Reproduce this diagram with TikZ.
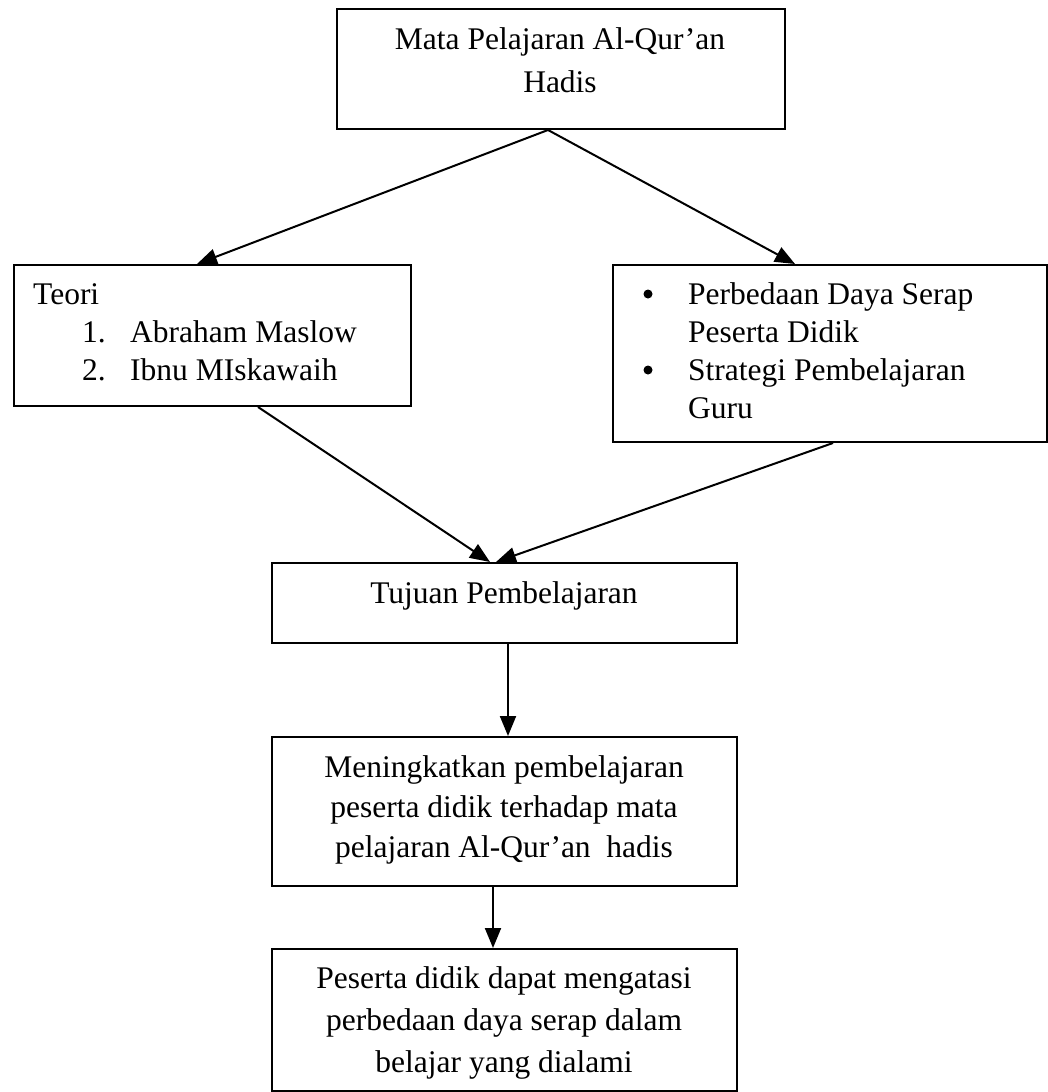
\documentclass[tikz,border=0pt]{standalone}
\usepackage{fontspec}
\setmainfont{Liberation Serif}
\usetikzlibrary{arrows.meta}
\begin{document}
\begin{tikzpicture}[x=1pt,y=-1pt,
  boxline/.style={draw=black,line width=2pt},
  txt/.style={anchor=base,inner sep=0pt,font=\fontsize{31.5}{38}\selectfont},
  txtl/.style={anchor=base west,inner sep=0pt,font=\fontsize{31.5}{38}\selectfont},
  conn/.style={line width=2pt,-{Triangle[length=20pt,width=16pt]}}]
\useasboundingbox (0,0) rectangle (1048,1092);
% boxes
\node[boxline,anchor=north west,minimum width=448pt,minimum height=120pt,inner sep=0pt] (b1) at (336,8) {};
\node[boxline,anchor=north west,minimum width=397pt,minimum height=141pt,inner sep=0pt] (b2) at (13,264) {};
\node[boxline,anchor=north west,minimum width=434pt,minimum height=177pt,inner sep=0pt] (b3) at (612,264) {};
\node[boxline,anchor=north west,minimum width=465pt,minimum height=80pt,inner sep=0pt] (b4) at (271,562) {};
\node[boxline,anchor=north west,minimum width=465pt,minimum height=149pt,inner sep=0pt] (b5) at (271,736) {};
\node[boxline,anchor=north west,minimum width=465pt,minimum height=142pt,inner sep=0pt] (b6) at (271,948) {};
% texts
\node[txt] (t1a) at (560,49) {Mata Pelajaran Al-Qur’an};
\node[txt] (t1b) at (560,92) {Hadis};
\node[txtl] (t2a) at (33,304) {Teori};
\node[txtl] (t2b) at (82,342) {1.};
\node[txtl] (t2c) at (130,342) {Abraham Maslow};
\node[txtl] (t2d) at (82,380) {2.};
\node[txtl] (t2e) at (130,380) {Ibnu MIskawaih};
\fill (648,294) circle (4.5pt);
\fill (648,370) circle (4.5pt);
\node[txtl] (t3a) at (688,304) {Perbedaan Daya Serap};
\node[txtl] (t3b) at (688,342) {Peserta Didik};
\node[txtl] (t3c) at (688,380) {Strategi Pembelajaran};
\node[txtl] (t3d) at (688,418) {Guru};
\node[txt] (t4) at (504,603) {Tujuan Pembelajaran};
\node[txt] (t5a) at (504,777) {Meningkatkan pembelajaran};
\node[txt] (t5b) at (504,817) {peserta didik terhadap mata};
\node[txt] (t5c) at (504,857) {pelajaran Al-Qur’an\ \ hadis};
\node[txt] (t6a) at (504,988) {Peserta didik dapat mengatasi};
\node[txt] (t6b) at (504,1030) {perbedaan daya serap dalam};
\node[txt] (t6c) at (504,1072) {belajar yang dialami};
% connectors
\coordinate (s1) at (b1.south -| 548,0);
\draw[conn] (s1) -- (b2.north -| 197,0);
\draw[conn] (s1) -- (b3.north -| 795,0);
\draw[conn] (b2.south -| 258,0) -- (b4.north -| 490,0);
\draw[conn] (b3.south -| 833,0) -- (b4.north -| 496,0);
\draw[conn] (b4.south -| 508,0) -- (b5.north -| 508,0);
\draw[conn] (b5.south -| 493,0) -- (b6.north -| 493,0);
\end{tikzpicture}
\end{document}
